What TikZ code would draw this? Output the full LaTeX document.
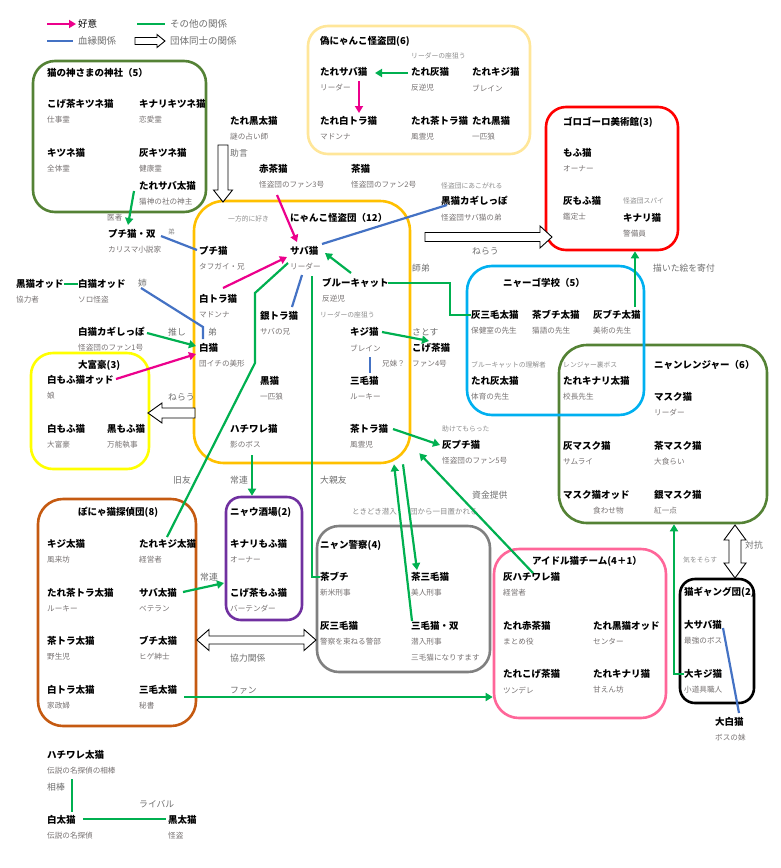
\documentclass[tikz,border=0pt]{standalone}
\usepackage{fontspec}
\setmainfont{Noto Sans CJK JP}
\usetikzlibrary{arrows.meta,positioning}
\definecolor{likepink}{RGB}{236,0,140}
\definecolor{kinblue}{RGB}{68,114,196}
\definecolor{othgreen}{RGB}{0,176,80}
\definecolor{shrinegreen}{RGB}{84,130,53}
\definecolor{fakeyellow}{RGB}{255,230,153}
\definecolor{gangorange}{RGB}{255,192,0}
\definecolor{schoolblue}{RGB}{0,176,240}
\definecolor{richyellow}{RGB}{255,255,0}
\definecolor{detbrown}{RGB}{197,90,17}
\definecolor{barpurple}{RGB}{112,48,160}
\definecolor{idolpink}{RGB}{255,102,153}
\definecolor{rolegray}{RGB}{118,113,113}
\definecolor{cmgray}{RGB}{140,140,140}
\definecolor{lbgray}{RGB}{110,110,110}

\begin{document}
\begin{tikzpicture}[x=1pt, y=-1pt,
    nm/.style={anchor=west, inner sep=0pt, font=\fontsize{9.5}{11}\selectfont\bfseries},
    rl/.style={anchor=west, inner sep=0pt, text=rolegray, font=\fontsize{7.6}{9}\selectfont},
    role/.style={rl, below=16pt of #1.west, anchor=west},
    note/.style={anchor=west, inner sep=0pt, text=cmgray, font=\fontsize{6.8}{8}\selectfont},
    lb/.style={anchor=west, inner sep=0pt, text=lbgray, font=\fontsize{8.8}{10}\selectfont},
    lg/.style={anchor=west, inner sep=0pt, text=lbgray, font=\fontsize{9.5}{11}\selectfont},
    grp/.style={draw, line width=2.6pt, inner sep=0pt},
    like/.style={draw=likepink, line width=2.2pt, -{Triangle[length=7pt,width=8pt]}},
    kin/.style={draw=kinblue, line width=2.2pt},
    oth/.style={draw=othgreen, line width=2.2pt},
    othar/.style={oth, -{Triangle[length=7pt,width=8pt]}},
    pics/hollow/.style n args={4}{code={
      \draw[line width=0.9pt, fill=white] (0,-#2) -- (#1-#4,-#2) -- (#1-#4,-#3) -- (#1,0)
        -- (#1-#4,#3) -- (#1-#4,#2) -- (0,#2) -- cycle;}},
    pics/hollowboth/.style n args={4}{code={
      \draw[line width=0.9pt, fill=white] (0,0) -- (#4,-#3) -- (#4,-#2) -- (#1-#4,-#2) -- (#1-#4,-#3)
        -- (#1,0) -- (#1-#4,#3) -- (#1-#4,#2) -- (#4,#2) -- (#4,#3) -- cycle;}}
]
    \useasboundingbox (0,0) rectangle (781,868);

    % group frames
    \node[grp, draw=shrinegreen, minimum width=173pt, minimum height=151pt, rounded corners=22pt] (shrine) at (119.5,136.5) {};
    \node[grp, draw=fakeyellow, minimum width=222pt, minimum height=128pt, rounded corners=20pt] (fake) at (419,90) {};
    \node[grp, draw=red, minimum width=132pt, minimum height=143pt, rounded corners=20pt] (museum) at (612,178.5) {};
    \node[grp, draw=gangorange, minimum width=216pt, minimum height=262pt, rounded corners=30pt] (nyanko) at (302,332) {};
    \node[grp, draw=shrinegreen, minimum width=208pt, minimum height=178pt, rounded corners=28pt] (ranger) at (663,434) {};
    \node[grp, draw=schoolblue, minimum width=177pt, minimum height=149pt, rounded corners=25pt] (school) at (555.5,340.5) {};
    \node[grp, draw=richyellow, minimum width=118pt, minimum height=116pt, rounded corners=22pt] (rich) at (90,411) {};
    \node[grp, draw=detbrown, minimum width=158pt, minimum height=227pt, rounded corners=25pt] (detective) at (117,612.5) {};
    \node[grp, draw=barpurple, minimum width=76pt, minimum height=123pt, rounded corners=15pt] (bar) at (264,558.5) {};
    \node[grp, draw=gray, minimum width=173pt, minimum height=146pt, rounded corners=22pt] (police) at (403.5,599) {};
    \node[grp, draw=idolpink, minimum width=172pt, minimum height=169pt, rounded corners=25pt] (idol) at (580,633.5) {};
    \node[grp, draw=black, minimum width=74pt, minimum height=124pt, rounded corners=15pt] (catgang) at (717,641) {};

    % legend
    \node[lg, text=black] (lgLike) at (78,24) {好意};
    \node[lg] (lgKin) at (78,41) {血縁関係};
    \node[lg] (lgOth) at (170,24) {その他の関係};
    \node[lg] (lgGrp) at (170,41) {団体同士の関係};
    \coordinate (lgA) at (47,24);
    \coordinate (lgB) at (47,41);
    \coordinate (lgC) at (137,24);
    \draw[like] (lgA) -- ([xshift=-2]lgLike.west);
    \draw[kin] (lgB) -- ([xshift=-5]lgKin.west);
    \draw[oth] (lgC) -- ([xshift=-5]lgOth.west);
    \pic at (135,41) {hollow={30}{3.5}{6.5}{8}};

    % shrine
    \node[nm] (shrineT) at (47,73) {猫の神さまの神社（5）};
    \node[nm] (kogeF) at (47,104) {こげ茶キツネ猫};
    \node[role=kogeF] {仕事霊};
    \node[nm] (kinaF) at (139,104) {キナリキツネ猫};
    \node[role=kinaF] {恋愛霊};
    \node[nm] (kitsune) at (47,153) {キツネ猫};
    \node[role=kitsune] {全体霊};
    \node[nm] (haiF) at (139,153) {灰キツネ猫};
    \node[role=haiF] {健康霊};
    \node[nm] (tsabaT) at (139,186) {たれサバ太猫};
    \node[role=tsabaT] {猫神の社の神主};

    % fake gang
    \node[nm] (fakeT) at (320,41) {偽にゃんこ怪盗団(6)};
    \node[note] at (411,56) {リーダーの座狙う};
    \node[nm] (tsabaF) at (320,72) {たれサバ猫};
    \node[role=tsabaF] {リーダー};
    \node[nm] (tHai) at (411,72) {たれ灰猫};
    \node[role=tHai] {反逆児};
    \node[nm] (tKiji) at (472,72) {たれキジ猫};
    \node[role=tKiji] {ブレイン};
    \node[nm] (tShiroTora) at (320,121) {たれ白トラ猫};
    \node[role=tShiroTora] {マドンナ};
    \node[nm] (tChaTora) at (411,121) {たれ茶トラ猫};
    \node[role=tChaTora] {風雲児};
    \node[nm] (tKuro) at (472,121) {たれ黒猫};
    \node[role=tKuro] {一匹狼};

    % museum
    \node[nm] (museumT) at (563,122) {ゴロゴーロ美術館(3)};
    \node[nm] (mofu) at (563,153) {もふ猫};
    \node[role=mofu] {オーナー};
    \node[nm] (haiMofu) at (563,201) {灰もふ猫};
    \node[role=haiMofu] {鑑定士};
    \node[note] at (623,201) {怪盗団スパイ};
    \node[nm] (kinari) at (623,218) {キナリ猫};
    \node[role=kinari] {警備員};

    % outside the gang, top
    \node[nm] (tkuroT) at (230,121) {たれ黒太猫};
    \node[role=tkuroT] {謎の占い師};
    \node[lb] at (230,153) {助言};
    \node[nm] (akacha) at (259,169) {赤茶猫};
    \node[role=akacha] (akachaR) {怪盗団のファン3号};
    \node[nm] (cha) at (351,169) {茶猫};
    \node[role=cha] {怪盗団のファン2号};
    \node[note] at (441,186) {怪盗団にあこがれる};
    \node[nm] (kuroKagi) at (441,201) {黒猫カギしっぽ};
    \node[rl] at (441,218) {怪盗団サバ猫の弟};
    \node[nm] (puchiSou) at (108,234) {プチ猫・双};
    \node[role=puchiSou] {カリスマ小説家};
    \node[note] at (168,232) {弟};
    \node[rl] at (107,218) {医者};

    % nyanko gang
    \node[nm] (nyankoT) at (290,218) {にゃんこ怪盗団（12）};
    \node[note] at (228,219) {一方的に好き};
    \node[nm] (puchi) at (199,251) {プチ猫};
    \node[role=puchi] {タフガイ・兄};
    \node[nm] (saba) at (290,251) {サバ猫};
    \node[role=saba] (sabaR) {リーダー};
    \node[nm] (blue) at (322,283) {ブルーキャット};
    \node[role=blue] {反逆児};
    \node[note] at (320,315) {リーダーの座狙う};
    \node[nm] (shiroTora) at (199,299) {白トラ猫};
    \node[role=shiroTora] {マドンナ};
    \node[nm] (ginTora) at (260,316) {銀トラ猫};
    \node[role=ginTora] {サバの兄};
    \node[nm] (shiro) at (199,348) {白猫};
    \node[role=shiro] {団イチの美形};
    \node[lb] at (208,332) {弟};
    \node[nm] (kiji) at (350,332) {キジ猫};
    \node[role=kiji] (kijiR) {ブレイン};
    \node[rl] at (382,364) {兄妹？};
    \node[nm] (mike) at (350,381) {三毛猫};
    \node[role=mike] {ルーキー};
    \node[nm] (kuro) at (260,381) {黒猫};
    \node[role=kuro] {一匹狼};
    \node[nm] (hachi) at (230,429) {ハチワレ猫};
    \node[role=hachi] (hachiR) {影のボス};
    \node[nm] (chaTora) at (350,429) {茶トラ猫};
    \node[role=chaTora] {風雲児};
    \node[lb] at (412,268) {師弟};
    \node[lb] at (412,332) {さとす};
    \node[nm] (kogeCha) at (412,348) {こげ茶猫};
    \node[role=kogeCha] {ファン4号};
    \node[note] at (442,429) {助けてもらった};
    \node[nm] (haiPuchi) at (442,445) {灰プチ猫};
    \node[role=haiPuchi] {怪盗団のファン5号};
    \node[lb] at (472,251) {ねらう};

    % left side
    \node[nm] (kuroOdd) at (16,284) {黒猫オッド};
    \node[role=kuroOdd] {協力者};
    \node[nm] (shiroOdd) at (78,284) {白猫オッド};
    \node[role=shiroOdd] {ソロ怪盗};
    \node[lb] at (138,283) {姉};
    \node[nm] (shiroKagi) at (78,332) {白猫カギしっぽ};
    \node[role=shiroKagi] {怪盗団のファン1号};
    \node[lb] at (168,332) {推し};
    \node[lb] at (168,397) {ねらう};

    % rich
    \node[nm] (richT) at (78,365) {大富豪(3)};
    \node[nm] (shiroMofuOdd) at (47,380) {白もふ猫オッド};
    \node[role=shiroMofuOdd] {娘};
    \node[nm] (shiroMofu) at (47,429) {白もふ猫};
    \node[role=shiroMofu] {大富豪};
    \node[nm] (kuroMofu) at (107,429) {黒もふ猫};
    \node[role=kuroMofu] {万能執事};

    % school
    \node[nm] (schoolT) at (503,283) {ニャーゴ学校（5）};
    \node[nm] (haiMikeT) at (471,315) {灰三毛太猫};
    \node[role=haiMikeT] {保健室の先生};
    \node[nm] (chaBuchiT) at (532,315) {茶ブチ太猫};
    \node[role=chaBuchiT] {猫語の先生};
    \node[nm] (haiPuchiT) at (593,315) {灰ブチ太猫};
    \node[role=haiPuchiT] {美術の先生};
    \node[note] at (471,365) {ブルーキャットの理解者};
    \node[nm] (tHaiT) at (471,381) {たれ灰太猫};
    \node[role=tHaiT] {体育の先生};
    \node[note] at (563,365) {レンジャー裏ボス};
    \node[nm] (tKinariT) at (563,381) {たれキナリ太猫};
    \node[role=tKinariT] {校長先生};
    \node[lb] at (653,268) {描いた絵を寄付};

    % ranger
    \node[nm] (rangerT) at (654,365) {ニャンレンジャー（6）};
    \node[nm] (mask) at (654,397) {マスク猫};
    \node[role=mask] {リーダー};
    \node[nm] (haiMask) at (563,446) {灰マスク猫};
    \node[role=haiMask] {サムライ};
    \node[nm] (chaMask) at (654,446) {茶マスク猫};
    \node[role=chaMask] {大食らい};
    \node[nm] (maskOdd) at (563,495) {マスク猫オッド};
    \node[rl] at (593,511) {食わせ物};
    \node[nm] (ginMask) at (654,495) {銀マスク猫};
    \node[role=ginMask] {紅一点};

    % detective
    \node[nm] (detT) at (78,512) {ぽにゃ猫探偵団(8)};
    \node[nm] (kijiT) at (47,544) {キジ太猫};
    \node[role=kijiT] {風来坊};
    \node[nm] (tKijiT) at (139,544) {たれキジ太猫};
    \node[role=tKijiT] {経営者};
    \node[nm] (tChaToraT) at (47,593) {たれ茶トラ太猫};
    \node[role=tChaToraT] {ルーキー};
    \node[nm] (sabaT) at (139,593) {サバ太猫};
    \node[role=sabaT] {ベテラン};
    \node[nm] (chaToraT) at (47,641) {茶トラ太猫};
    \node[role=chaToraT] {野生児};
    \node[nm] (buchiT) at (139,641) {ブチ太猫};
    \node[role=buchiT] {ヒゲ紳士};
    \node[nm] (shiroToraT) at (47,690) {白トラ太猫};
    \node[role=shiroToraT] {家政婦};
    \node[nm] (mikeT) at (139,690) {三毛太猫};
    \node[role=mikeT] {秘書};
    \node[lb] at (173,480) {旧友};

    % bar
    \node[nm] (barT) at (230,512) {ニャウ酒場(2)};
    \node[nm] (kinariMofu) at (230,544) {キナリもふ猫};
    \node[role=kinariMofu] {オーナー};
    \node[nm] (kogeMofu) at (230,593) {こげ茶もふ猫};
    \node[role=kogeMofu] {バーテンダー};
    \node[lb] at (230,480) {常連};
    \node[lb] at (200,577) {常連};
    \node[lb] at (230,658) {協力関係};
    \node[lb] at (230,691) {ファン};

    % police
    \node[nm] (policeT) at (320,545) {ニャン警察(4)};
    \node[nm] (chaBuchi) at (320,577) {茶ブチ};
    \node[role=chaBuchi] {新米刑事};
    \node[nm] (chaMike) at (411,577) {茶三毛猫};
    \node[role=chaMike] {美人刑事};
    \node[nm] (haiMike) at (320,626) {灰三毛猫};
    \node[role=haiMike] {警察を束ねる警部};
    \node[nm] (mikeSou) at (411,626) {三毛猫・双};
    \node[role=mikeSou] (mikeSouR) {潜入刑事};
    \node[rl] at (411,658) {三毛猫になりすます};
    \node[lb] at (320,480) {大親友};
    \node[note, font=\fontsize{7.5}{8}\selectfont] at (352,512) {ときどき潜入};
    \node[note, font=\fontsize{7.5}{8}\selectfont] at (410,512) {団から一目置かれる};
    \node[lb] at (472,495) {資金提供};

    % idol
    \node[nm] (idolT) at (532,561) {アイドル猫チーム(4＋1）};
    \node[nm] (haiHachi) at (503,577) {灰ハチワレ猫};
    \node[role=haiHachi] {経営者};
    \node[nm] (tAkaCha) at (503,626) {たれ赤茶猫};
    \node[role=tAkaCha] {まとめ役};
    \node[nm] (tKuroOdd) at (593,626) {たれ黒猫オッド};
    \node[role=tKuroOdd] {センター};
    \node[nm] (tKoge) at (503,674) {たれこげ茶猫};
    \node[role=tKoge] {ツンデレ};
    \node[nm] (tKinari) at (593,674) {たれキナリ猫};
    \node[role=tKinari] {甘えん坊};

    % cat gang
    \node[nm] (catgangT) at (684,592) {猫ギャング団(2)};
    \node[nm] (oSaba) at (684,625) {大サバ猫};
    \node[role=oSaba] {最強のボス};
    \node[nm] (oKiji) at (684,674) {大キジ猫};
    \node[role=oKiji] {小道具職人};
    \node[nm] (oShiro) at (715,722) {大白猫};
    \node[role=oShiro] {ボスの妹};
    \node[lb] at (745,545) {対抗};
    \node[note] at (683,560) {気をそらす};

    % bottom
    \node[nm] (hachiT) at (47,755) {ハチワレ太猫};
    \node[role=hachiT] (hachiTR) {伝説の名探偵の相棒};
    \node[lb] at (47,787) {相棒};
    \node[nm] (shiroT) at (47,820) {白太猫};
    \node[role=shiroT] {伝説の名探偵};
    \node[nm] (kuroT) at (168,820) {黒太猫};
    \node[role=kuroT] {怪盗};
    \node[lb] at (139,804) {ライバル};

    % group arrows
    \pic[rotate=-90] at (223,145) {hollow={57}{5}{9.5}{12}};
    \pic at (425,237) {hollow={127}{4.5}{11}{12}};
    \pic[rotate=180] at (195,413) {hollow={47}{5}{10}{14}};
    \pic[rotate=-90] at (735,525) {hollowboth={53}{6}{11}{15}};
    \pic at (197,640) {hollowboth={119}{4}{10.5}{12}};

    % relations
    \draw[othar] ([shift={(-5,5)}]tsabaT.west) -- ([shift={(20,-9)}]puchiSou.west);
    \draw[othar] ([shift={(-3,1)}]tHai.west) -- ([shift={(55,1)}]tsabaF.west);
    \draw[like] ([shift={(39,9)}]tsabaF.west) -- ([shift={(39,-8)}]tShiroTora.west);
    \draw[like] ([shift={(18,10)}]akachaR.west) -- ([shift={(7,-9)}]saba.west);
    \draw[like] ([shift={(24,-11)}]shiroTora.west) -- ([shift={(-3,6)}]saba.west);
    \draw[othar] ([shift={(29,-10)}]blue.west) -- ([shift={(35,2)}]saba.west);
    \draw[kin] ([shift={(12,8)}]sabaR.west) -- ([shift={(32,-9)}]ginTora.west);
    \draw[kin] ([shift={(32,-7)}]saba.west) -- ([shift={(6,4)}]kuroKagi.west);
    \draw[kin] ([shift={(53,2)}]puchiSou.west) -- ([shift={(-2,-1)}]puchi.west);
    \draw[oth] ([shift={(66,0)}]blue.west) -- ++(62,0) |- (haiMikeT.west);
    \draw[oth] ([shift={(-2,12)}]saba.west) -- ++(-33,30) -- ++(0,70) -- ([shift={(28,-7)}]tKijiT.west);
    \draw[oth] ([shift={(22,9)}]sabaR.west) |- (chaBuchi.west);
    \draw[othar] ([shift={(32,0)}]kiji.west) -- ([shift={(17,-7)}]kogeCha.west);
    \draw[othar] ([shift={(43,0)}]chaTora.west) -- ([shift={(-2,0)}]haiPuchi.west);
    \draw[kin] ([shift={(20,9)}]kijiR.west) -- ([shift={(20,-8)}]mike.west);
    \draw[oth] (kuroOdd.east) -- (shiroOdd.west);
    \draw[kin] ([shift={(63,4)}]shiroOdd.west) -- ([shift={(4,-21)}]shiro.west) -- ([shift={(4,-9)}]shiro.west);
    \draw[othar] ([shift={(69,1)}]shiroKagi.west) -- ([shift={(-3,-2)}]shiro.west);
    \draw[like] ([shift={(69,-1)}]shiroMofuOdd.west) -- ([shift={(-3,6)}]shiro.west);
    \draw[othar] ([shift={(42,-8)}]haiPuchiT.west) coordinate (hp) -- (hp |- museum.south);
    \draw[othar] (oKiji.west) -- ++(-10,0) coordinate (ok) -- (ok |- ranger.south);
    \draw[kin] ([shift={(39,3)}]oSaba.west) -- ([shift={(24,-9)}]oShiro.west);
    \draw[othar] ([shift={(30,-4)}]haiHachi.west) -- ([shift={(8,-11)}]nyanko.south east);
    \draw[othar] ([shift={(44,-1)}]sabaT.west) -- ([shift={(-6,-10)}]kogeMofu.west);
    \draw[othar] ([shift={(45,7)}]mikeT.west) coordinate (mt) -- (mt -| idol.west);
    \draw[othar] ([shift={(22,10)}]hachiR.west) coordinate (hr) -- (hr |- bar.north);
    \draw[othar] ([xshift=101]nyanko.south) -- ([shift={(6,-7)}]chaMike.west);
    \draw[othar] ([shift={(1,-5)}]mikeSou.west) -- ([xshift=92]nyanko.south);
    \draw[oth] ([shift={(25,8)}]hachiTR.west) -- ([shift={(25,-8)}]shiroT.west);
    \draw[oth] ([shift={(36,-1)}]shiroT.west) -- ([shift={(-2,-1)}]kuroT.west);
\end{tikzpicture}
\end{document}
